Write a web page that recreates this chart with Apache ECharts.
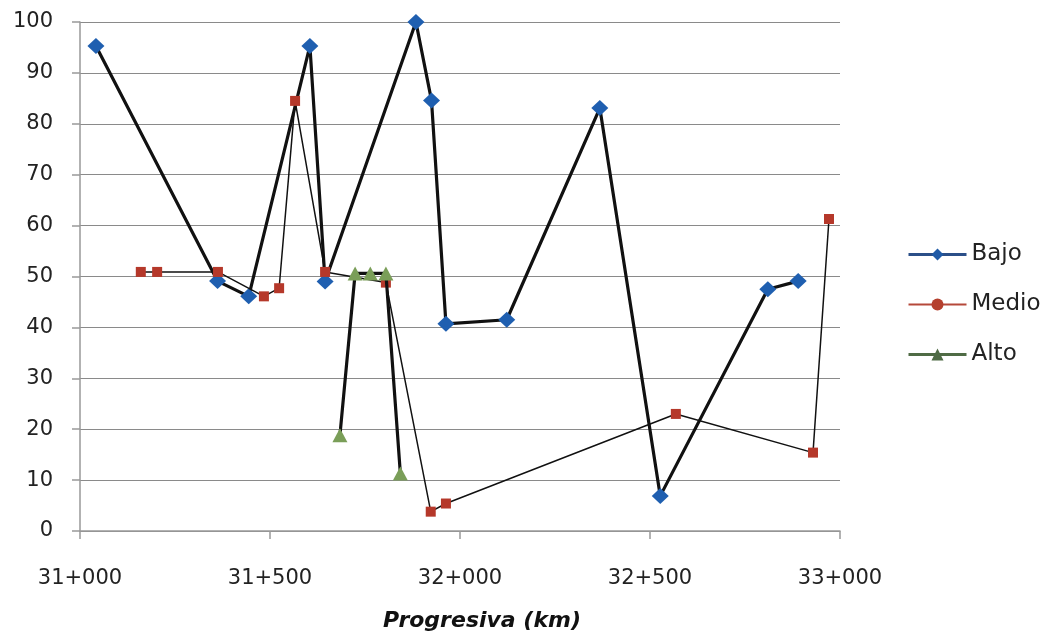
<!DOCTYPE html>
<html>
<head>
<meta charset="utf-8">
<script src="https://cdn.jsdelivr.net/npm/echarts@6/dist/echarts.min.js"></script>
<style>
html,body{margin:0;padding:0;background:#fff;}
#c{width:1049px;height:639px;}
</style>
</head>
<body>
<div id="c"></div>
<script>
// Data (progresiva in m, value)
var bajoX = [31042, 31362, 31444, 31605, 31645, 31884, 31925, 31963, 32123, 32368, 32527, 32810, 32890];
var bajoY = [95.3, 49.1, 46.1, 95.3, 49.0, 100, 84.6, 40.7, 41.5, 83.1, 6.9, 47.5, 49.1];
var medioX = [31160, 31203, 31363, 31484, 31524, 31566, 31645, 31805, 31923, 31963, 32568, 32929, 32971];
var medioY = [50.9, 50.9, 50.9, 46.1, 47.7, 84.5, 50.9, 48.8, 3.8, 5.4, 23.0, 15.4, 61.3];
var altoX = [31684, 31724, 31764, 31805, 31843];
var altoY = [18.8, 50.6, 50.6, 50.6, 11.3];
var xTicks = [31000, 31500, 32000, 32500, 33000];
var seriesNames = ['Bajo', 'Medio', 'Alto'];

function pairs(xs, ys, extra) {
  return xs.map(function (x, i) {
    var d = { value: [x, ys[i]] };
    if (extra) for (var k in extra) d[k] = extra[k];
    return d;
  });
}

var FONT = 'DejaVu Sans';
var chart = echarts.init(document.getElementById('c'), null, { renderer: 'canvas' });
chart.setOption({
  animation: false,
  backgroundColor: '#ffffff',
  grid: { left: 80, right: 209, top: 22, bottom: 108, containLabel: false },
  legend: {
    orient: 'vertical',
    left: 907,
    top: 243,
    padding: 0,
    itemWidth: 58,
    itemHeight: 15,
    itemGap: 27,
    textStyle: { fontFamily: FONT, fontSize: 23, color: '#222' },
    data: [
      { name: seriesNames[0], itemStyle: { color: '#1f5aa6' }, lineStyle: { color: '#2b4f88', width: 3 } },
      { name: seriesNames[1], itemStyle: { color: '#b5402e' }, lineStyle: { color: '#b5483a', width: 2 } },
      { name: seriesNames[2], itemStyle: { color: '#4f6b45' }, lineStyle: { color: '#4f6b45', width: 3 } }
    ]
  },
  xAxis: {
    type: 'value',
    min: xTicks[0],
    max: xTicks[xTicks.length - 1],
    interval: 500,
    name: 'Progresiva (km)',
    nameLocation: 'middle',
    nameGap: 79,
    nameTextStyle: { fontFamily: FONT, fontSize: 22, fontWeight: 'bold', fontStyle: 'italic', color: '#111', padding: [0, 0, 0, 44] },
    axisLine: { show: true, lineStyle: { color: '#999', width: 1.5 } },
    axisTick: { show: true, length: 8, lineStyle: { color: '#999', width: 1.5 } },
    axisLabel: {
      margin: 37,
      fontFamily: FONT, fontSize: 21, color: '#222',
      formatter: function (v) { return Math.floor(v / 1000) + '+' + String(v % 1000).padStart(3, '0'); }
    },
    splitLine: { show: false }
  },
  yAxis: {
    type: 'value',
    min: 0, max: 100, interval: 10,
    axisLine: { show: true, lineStyle: { color: '#999', width: 1.5 } },
    axisTick: { show: true, length: 8, lineStyle: { color: '#999', width: 1.5 } },
    axisLabel: { margin: 27, fontFamily: FONT, fontSize: 21, color: '#222' },
    splitLine: { show: true, lineStyle: { color: '#8a8a8a', width: 1.2 } }
  },
  series: [
    {
      name: seriesNames[0], type: 'line',
      data: pairs(bajoX, bajoY),
      symbol: 'diamond', symbolSize: [17, 16],
      itemStyle: { color: '#1f5fb0' },
      lineStyle: { color: '#111', width: 3.2 },
      z: 2
    },
    {
      name: seriesNames[1], type: 'line',
      data: pairs(medioX, medioY, { symbol: 'rect', symbolSize: 10 }),
      symbol: 'circle', symbolSize: 10,
      itemStyle: { color: '#b5382a' },
      lineStyle: { color: '#111', width: 1.5 },
      z: 3
    },
    {
      name: seriesNames[2], type: 'line',
      data: pairs(altoX, altoY),
      symbol: 'triangle', symbolSize: [15, 14],
      itemStyle: { color: '#7a9e58' },
      lineStyle: { color: '#111', width: 3.2 },
      z: 4
    }
  ]
});
</script>
</body>
</html>
